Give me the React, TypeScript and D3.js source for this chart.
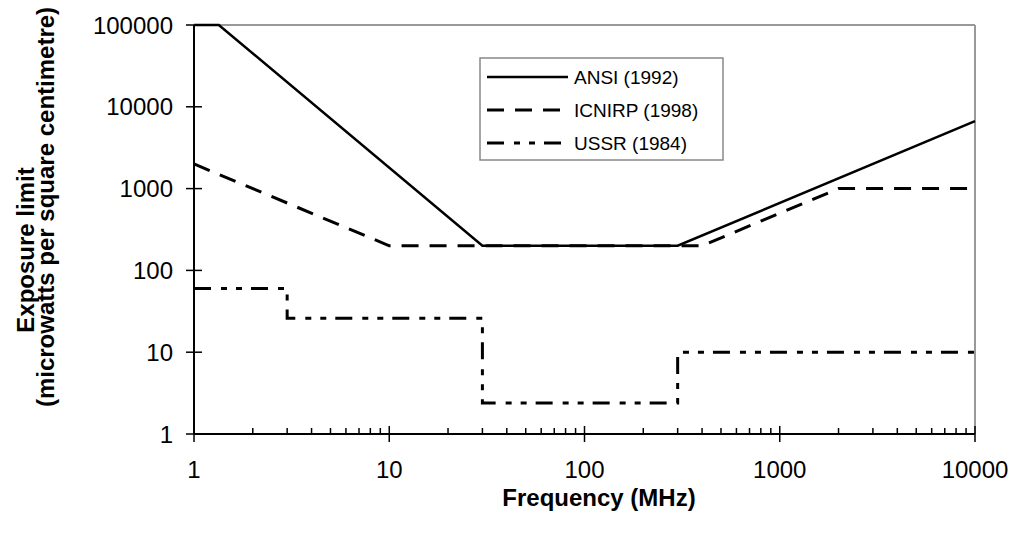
import React from "react";
import * as d3 from "d3";

// frequency in MHz, limit in microwatts per square centimetre
const ansiFreq = [1, 1.34, 30, 300, 10000];
const ansiLimit = [100000, 100000, 200, 200, 6667];

const icnirpFreq = [1, 10, 400, 2000, 10000];
const icnirpLimit = [2000, 200, 200, 1000, 1000];

const ussrFreq = [1, 3, 3, 30, 30, 300, 300, 10000];
const ussrLimit = [60, 60, 26, 26, 2.4, 2.4, 10, 10];

const xTicks = [1, 10, 100, 1000, 10000];
const yTicks = [1, 10, 100, 1000, 10000, 100000];

const seriesNames = ["ANSI (1992)", "ICNIRP (1998)", "USSR (1984)"];

const font = "'Liberation Sans', Arial, sans-serif";

export default function App() {
  const width = 1017;
  const height = 541;
  const margin = { top: 25, right: 42, bottom: 107, left: 194 };

  const x = d3
    .scaleLog()
    .domain([1, 10000])
    .range([margin.left, width - margin.right]);
  const y = d3
    .scaleLog()
    .domain([1, 100000])
    .range([height - margin.bottom, margin.top]);

  const line = d3
    .line<[number, number]>()
    .x((d) => x(d[0]))
    .y((d) => y(d[1]));

  const zip = (a: number[], b: number[]) =>
    a.map((v, i) => [v, b[i]] as [number, number]);

  const series = [
    { data: zip(ansiFreq, ansiLimit), dash: "none", w: 2.5 },
    { data: zip(icnirpFreq, icnirpLimit), dash: "17 11", w: 3 },
    { data: zip(ussrFreq, ussrLimit), dash: "17 10 6 9 6 9", w: 3 },
  ];

  // minor ticks for the x axis
  const minor: number[] = [];
  for (let dec = 1; dec < 10000; dec *= 10) {
    for (let k = 2; k <= 9; k++) minor.push(dec * k);
  }

  const x0 = x(1);
  const x1 = x(10000);
  const y0 = y(1);
  const y1 = y(100000);

  const legend = { x: 480, y: 58, w: 243, h: 102 };

  return (
    <svg
      width={width}
      height={height}
      style={{ position: "absolute", left: 0, top: 0, background: "#fff" }}
    >
      {/* top and right frame */}
      <line x1={x0} x2={x1} y1={y1} y2={y1} stroke="#999" strokeWidth={2} />
      <line x1={x1} x2={x1} y1={y1} y2={y0} stroke="#999" strokeWidth={2} />

      {/* series, drawn back to front */}
      {[2, 1, 0].map((i) => (
        <path
          key={i}
          d={line(series[i].data) || ""}
          fill="none"
          stroke="#000"
          strokeWidth={series[i].w}
          strokeDasharray={series[i].dash}
        />
      ))}

      {/* axes */}
      <line x1={x0} x2={x0} y1={y1} y2={y0} stroke="#000" strokeWidth={2} />
      <line x1={x0} x2={x1} y1={y0} y2={y0} stroke="#000" strokeWidth={2} />

      {yTicks.map((t) => (
        <g key={"y" + t}>
          <line x1={x0 - 8} x2={x0 + 8} y1={y(t)} y2={y(t)} stroke="#000" strokeWidth={1.5} />
          <text
            x={x0 - 21}
            y={y(t)}
            dy="0.36em"
            textAnchor="end"
            fontFamily={font}
            fontSize={24}
          >
            {t}
          </text>
        </g>
      ))}

      {minor.map((t) => (
        <line key={"m" + t} x1={x(t)} x2={x(t)} y1={y0 - 6} y2={y0} stroke="#000" strokeWidth={1.5} />
      ))}

      {xTicks.map((t) => (
        <g key={"x" + t}>
          <line x1={x(t)} x2={x(t)} y1={y0 - 8} y2={y0 + 8} stroke="#000" strokeWidth={1.5} />
          <text
            x={x(t)}
            y={y0 + 44}
            textAnchor="middle"
            fontFamily={font}
            fontSize={24}
          >
            {t}
          </text>
        </g>
      ))}

      {/* axis titles */}
      <text
        x={599}
        y={506}
        textAnchor="middle"
        fontFamily={font}
        fontSize={24}
        fontWeight="bold"
      >
        Frequency (MHz)
      </text>
      <text
        transform="translate(34, 250) rotate(-90)"
        textAnchor="middle"
        fontFamily={font}
        fontSize={24}
        fontWeight="bold"
      >
        Exposure limit
      </text>
      <text
        transform="translate(54, 207) rotate(-90)"
        textAnchor="middle"
        fontFamily={font}
        fontSize={24}
        fontWeight="bold"
      >
        (microwatts per square centimetre)
      </text>

      {/* legend */}
      <rect
        x={legend.x}
        y={legend.y}
        width={legend.w}
        height={legend.h}
        fill="#fff"
        stroke="#888"
        strokeWidth={1.5}
      />
      {seriesNames.map((name, i) => {
        const ly = 77 + i * 33;
        return (
          <g key={name}>
            <line
              x1={487}
              x2={568}
              y1={ly}
              y2={ly}
              stroke="#000"
              strokeWidth={series[i].w}
              strokeDasharray={series[i].dash}
            />
            <text x={574} y={ly} dy="0.36em" fontFamily={font} fontSize={19}>
              {name}
            </text>
          </g>
        );
      })}
    </svg>
  );
}
